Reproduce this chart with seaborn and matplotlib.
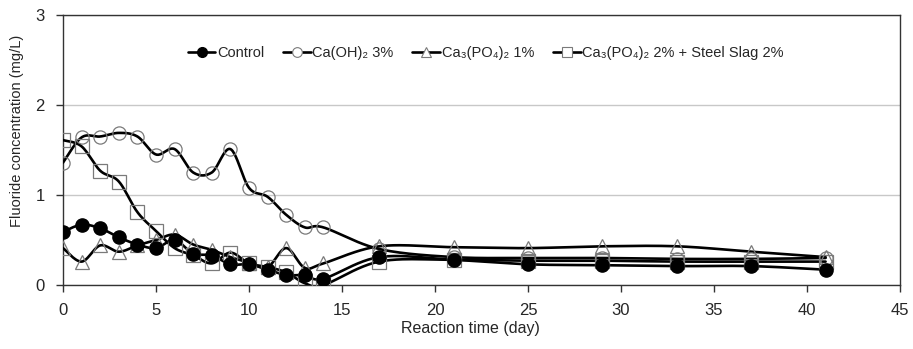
import numpy as np
import pandas as pd
import matplotlib
matplotlib.use("Agg")
import matplotlib.pyplot as plt
from matplotlib.lines import Line2D
import seaborn as sns

days = [0, 1, 2, 3, 4, 5, 6, 7, 8, 9, 10, 11, 12, 13, 14, 17, 21, 25, 29, 33, 37, 41]
control = [0.59, 0.67, 0.63, 0.53, 0.45, 0.41, 0.50, 0.35, 0.33, 0.23, 0.23, 0.17, 0.11, 0.11, 0.07,
           0.31, 0.28, 0.23, 0.22, 0.21, 0.21, 0.17]
caoh2 = [1.36, 1.64, 1.65, 1.69, 1.65, 1.45, 1.51, 1.25, 1.25, 1.51, 1.08, 0.98, 0.78, 0.64, 0.64,
         0.40, 0.31, 0.30, 0.30, 0.29, 0.29, 0.30]
capo_1 = [0.41, 0.26, 0.44, 0.37, 0.44, 0.50, 0.56, 0.45, 0.39, 0.31, 0.25, 0.20, 0.41, 0.19, 0.24,
          0.43, 0.42, 0.41, 0.43, 0.43, 0.37, 0.31]
capo_slag = [1.61, 1.54, 1.27, 1.15, 0.81, 0.60, 0.41, 0.33, 0.24, 0.36, 0.24, 0.20, 0.14, 0.02, 0.00,
             0.26, 0.28, 0.27, 0.27, 0.26, 0.26, 0.26]
labels = ["Control", "Ca(OH)\u2082 3%", "Ca\u2083(PO\u2084)\u2082 1%", "Ca\u2083(PO\u2084)\u2082 2% + Steel Slag 2%"]
x_ticks = [0, 5, 10, 15, 20, 25, 30, 35, 40, 45]
y_ticks = [0, 1, 2, 3]

series = [control, caoh2, capo_1, capo_slag]
markers = ["o", "o", "^", "s"]
filled = [True, False, False, False]


def smooth(x, y, n=24):
    pts = np.column_stack([x, y]).astype(float)
    P = np.vstack([pts[0], pts, pts[-1]])
    out = []
    t = np.linspace(0, 1, n, endpoint=False)[:, None]
    for i in range(1, len(P) - 2):
        p0, p1, p2, p3 = P[i - 1], P[i], P[i + 1], P[i + 2]
        c1 = p1 + (p2 - p0) / 6.0
        c2 = p2 - (p3 - p1) / 6.0
        b = ((1 - t) ** 3) * p1 + 3 * ((1 - t) ** 2) * t * c1 + 3 * (1 - t) * t ** 2 * c2 + t ** 3 * p2
        out.append(b)
    out.append(pts[-1][None, :])
    out = np.vstack(out)
    return out[:, 0], out[:, 1]


sns.set_style("white")
plt.rcParams["font.family"] = ["Liberation Sans", "DejaVu Sans"]

fig = plt.figure(figsize=(9.13, 3.49), dpi=100)
ax = fig.add_axes([63 / 913, 1 - 285 / 349, (900 - 63) / 913, (285 - 15) / 349])

for i, ys in enumerate(series):
    sx, sy = smooth(days, ys)
    df = pd.DataFrame({"x": sx, "y": sy})
    sns.lineplot(data=df, x="x", y="y", sort=False, estimator=None, color="black",
                 linewidth=1.9, ax=ax, zorder=3)

for i, ys in enumerate(series):
    df = pd.DataFrame({"x": days, "y": ys})
    if filled[i]:
        ax.plot(df["x"], df["y"], linestyle="none", marker=markers[i], markersize=9.5,
                markerfacecolor="black", markeredgecolor="black", zorder=5)
    else:
        ax.plot(df["x"], df["y"], linestyle="none", marker=markers[i], markersize=9.5,
                markerfacecolor="none", markeredgecolor="#7a7a7a", markeredgewidth=0.9, zorder=4)

ax.set_xlim(0, 45)
ax.set_ylim(0, 3)
ax.set_xticks(x_ticks)
ax.set_yticks(y_ticks)
ax.set_xticklabels([str(v) for v in x_ticks])
ax.set_yticklabels([str(v) for v in y_ticks])
ax.yaxis.grid(True, color="#c8c8c8", linewidth=1.0)
ax.xaxis.grid(False)
for s in ["left", "bottom", "top", "right"]:
    ax.spines[s].set_color("#333333")
    ax.spines[s].set_linewidth(1.0)
ax.tick_params(axis="both", which="both", direction="out", length=5, width=1.0,
               color="#333333", labelsize=12, pad=8, left=True, bottom=True)
ax.set_xlabel("Reaction time (day)", fontsize=11.5)
ax.set_ylabel("Fluoride concentration (mg/L)", fontsize=10.5)
ax.xaxis.set_label_coords(0.487, -0.135)
ax.yaxis.set_label_coords(-0.047, 0.57)

handles = []
for i in range(4):
    if filled[i]:
        h = Line2D([0], [0], color="black", linewidth=1.9, marker="o", markersize=7,
                   markerfacecolor="black", markeredgecolor="black")
    else:
        h = Line2D([0], [0], color="black", linewidth=1.9, marker=markers[i], markersize=7,
                   markerfacecolor="white", markeredgecolor="#7a7a7a", markeredgewidth=0.8)
    handles.append(h)
ax.legend(handles, labels, loc="center", bbox_to_anchor=(0.505, 0.86), ncol=4, frameon=False,
          fontsize=10.5, handlelength=1.9, handletextpad=0.1, columnspacing=1.3)

fig.savefig("out.png", dpi=100)
